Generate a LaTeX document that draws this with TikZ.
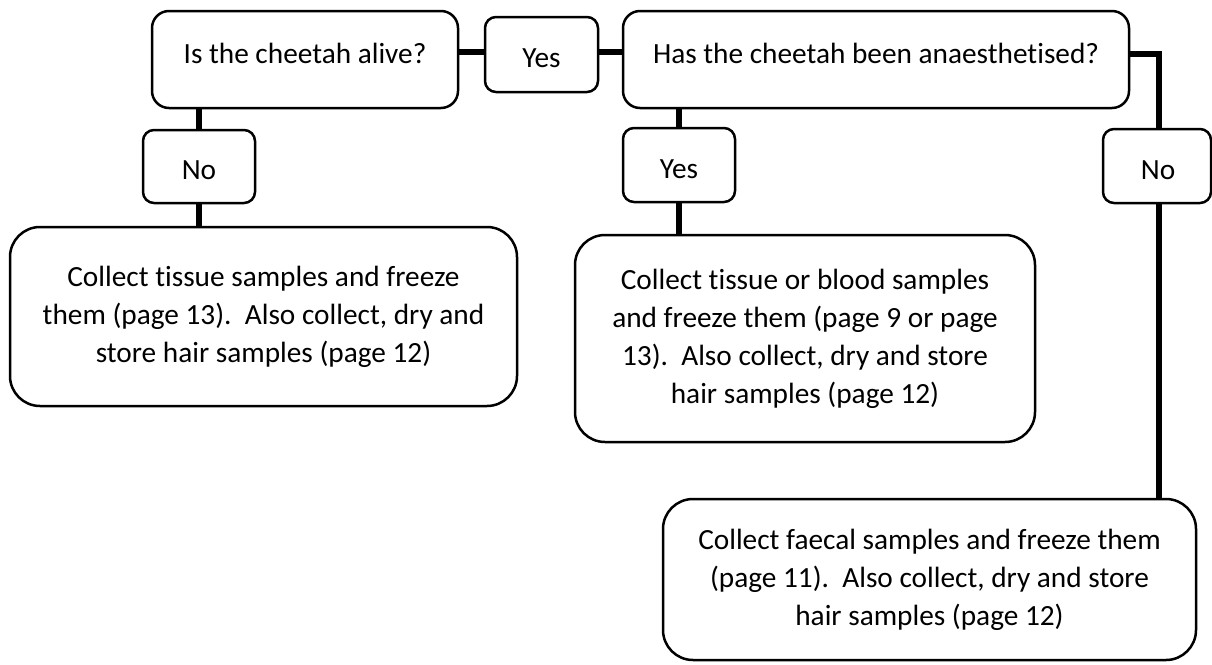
\documentclass[tikz,border=0pt]{standalone}
\usepackage{fontspec}
\setmainfont{Carlito}[Ligatures=NoCommon]
\frenchspacing
\begin{document}
\begin{tikzpicture}[x=1pt,y=-1pt,
  box/.style={draw=black, line width=2.5pt, fill=white, inner sep=0pt, align=center},
  qbox/.style={box, rounded corners=17pt},
  sbox/.style={box, rounded corners=11pt},
  bigbox/.style={box, rounded corners=30pt},
  txt/.style={inner sep=0pt, align=center},
  conn/.style={line width=6pt}
]
\useasboundingbox (0,0) rectangle (1212,664);
\fontsize{29.3}{38}\selectfont
% boxes
\node[qbox, minimum width=306pt, minimum height=97pt] (q1) at (305,59.5) {};
\node[txt] (q1t) at (305,53) {Is the cheetah alive?};
\node[sbox, minimum width=113pt, minimum height=75pt] (yes1) at (541.5,54.5) {};
\node[txt] (yes1t) at (541.5,58) {Yes};
\node[qbox, minimum width=506pt, minimum height=97pt] (q2) at (876,59.5) {};
\node[txt] (q2t) at (876,53) {Has the cheetah been anaesthetised?};
\node[sbox, minimum width=112pt, minimum height=73pt] (no1) at (199,166.5) {};
\node[txt] (no1t) at (199,170) {No};
\node[sbox, minimum width=112pt, minimum height=74pt] (yes2) at (679,165) {};
\node[txt] (yes2t) at (679,169) {Yes};
\node[sbox, minimum width=108pt, minimum height=74pt] (no2) at (1157,166) {};
\node[txt] (no2t) at (1158,170) {No};
\node[bigbox, minimum width=507pt, minimum height=179pt] (a) at (263.5,316.5)
  {Collect tissue samples and freeze\\them (page 13).\ \ Also collect, dry and\\store hair samples (page 12)};
\node[bigbox, minimum width=460pt, minimum height=207pt] (b) at (805,338.5)
  {Collect tissue or blood samples\\and freeze them (page 9 or page\\13).\ \ Also collect, dry and store\\hair samples (page 12)};
\node[bigbox, minimum width=533pt, minimum height=161pt] (c) at (929.5,579.5)
  {Collect faecal samples and freeze them\\(page 11).\ \ Also collect, dry and store\\hair samples (page 12)};
% connectors
\draw[conn] ([yshift=7.5pt]q1.east) -- ([yshift=7.5pt]q1.east -| yes1.west);
\draw[conn] ([yshift=7.5pt]q2.west -| yes1.east) -- ([yshift=7.5pt]q2.west);
\draw[conn] (no1.north |- q1.south) -- (no1.north);
\draw[conn] (no1.south) -- (no1.south |- a.north);
\draw[conn] (yes2.north |- q2.south) -- (yes2.north);
\draw[conn] (yes2.south) -- (yes2.south |- b.north);
\draw[conn] ([yshift=5.5pt]q2.east) -| ([xshift=2pt]no2.north);
\draw[conn] ([xshift=2pt]no2.south) -- ([xshift=2pt]no2.south |- c.north);
\end{tikzpicture}
\end{document}
